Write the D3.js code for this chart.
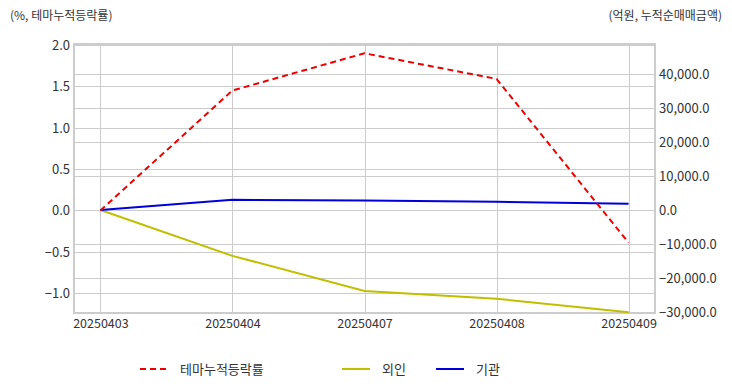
<!DOCTYPE html>
<html><head><meta charset="utf-8">
<script src="https://cdn.jsdelivr.net/npm/d3@7"></script>
<style>body{margin:0;background:#fff}svg{display:block;font-family:"Noto Sans CJK KR","Noto Sans",sans-serif}</style>
</head><body><svg id="c" width="732" height="392"></svg>
<script>
const dates = ["20250403","20250404","20250407","20250408","20250409"];
const themeRate = [0, 1.45, 1.90, 1.59, -0.39];
const foreign = [0, -13500, -23800, -26100, -30100];
const institution = [0, 3000, 2750, 2400, 1850];
const leftTicks = [2.0, 1.5, 1.0, 0.5, 0.0, -0.5, -1.0];
const rightTicks = [40000, 30000, 20000, 10000, 0, -10000, -20000, -30000];

const svg = d3.select("#c");
const L = 74, R = 655, T = 45, B = 313;
const x = d3.scalePoint().domain(dates).range([L, R]).padding(0.2);
const yL = d3.scaleLinear().domain([-1.24, 2.0]).range([B, T]);
const yR = d3.scaleLinear().domain([-30300, 48500]).range([B, T]);
const grid = "#cccccc", txt = "#333";

const g = svg.append("g");
// grid lines
g.selectAll(".gl").data(leftTicks).join("line").attr("x1", L).attr("x2", R)
  .attr("y1", d => Math.round(yL(d)) + 0.5).attr("y2", d => Math.round(yL(d)) + 0.5)
  .attr("stroke", grid).attr("stroke-width", 1);
g.selectAll(".gr").data(rightTicks).join("line").attr("x1", L).attr("x2", R)
  .attr("y1", d => Math.round(yR(d)) + 0.5).attr("y2", d => Math.round(yR(d)) + 0.5)
  .attr("stroke", grid).attr("stroke-width", 1);
g.selectAll(".gx").data(dates).join("line").attr("y1", T).attr("y2", B)
  .attr("x1", d => Math.round(x(d)) + 0.5).attr("x2", d => Math.round(x(d)) + 0.5)
  .attr("stroke", grid).attr("stroke-width", 1);
// frame
g.append("rect").attr("x", L).attr("y", T - 1).attr("width", R - L).attr("height", B - T + 1)
  .attr("fill", "none").attr("stroke", grid).attr("stroke-width", 2);

// axes
const axL = svg.append("g").attr("transform", `translate(${L - 4},0)`)
  .call(d3.axisLeft(yL).tickValues(leftTicks).tickFormat(d3.format(".1f")).tickSize(0).tickPadding(0));
const axR = svg.append("g").attr("transform", `translate(${R + 4},0)`)
  .call(d3.axisRight(yR).tickValues(rightTicks).tickFormat(d3.format(",.1f")).tickSize(0).tickPadding(0));
const axB = svg.append("g").attr("transform", `translate(0,${B + 3})`)
  .call(d3.axisBottom(x).tickSize(0).tickPadding(0));
[axL, axR, axB].forEach(a => {
  a.select(".domain").remove();
  a.selectAll("text").attr("fill", txt).style("font-size", "13px")
    .style("font-family", '"Noto Sans CJK KR","Noto Sans",sans-serif');
});
axB.selectAll("text").attr("dy", "0.95em").style("font-size", "12.5px");
axL.selectAll("text").attr("dy", "0.35em");
axR.selectAll("text").attr("dy", "0.35em");

// lines
const lineL = d3.line().x((d, i) => x(dates[i])).y(d => yL(d));
const lineR = d3.line().x((d, i) => x(dates[i])).y(d => yR(d));
svg.append("path").datum(foreign).attr("d", lineR).attr("fill", "none")
  .attr("stroke", "#bfbf00").attr("stroke-width", 2);
svg.append("path").datum(institution).attr("d", lineR).attr("fill", "none")
  .attr("stroke", "#0000dd").attr("stroke-width", 2);
svg.append("path").datum(themeRate).attr("d", lineL).attr("fill", "none")
  .attr("stroke", "#ee0000").attr("stroke-width", 2).attr("stroke-dasharray", "6,4");

// axis titles
svg.append("text").attr("x", 10).attr("y", 20).text("(%, 테마누적등락률)")
  .attr("fill", txt).style("font-size", "12px");
svg.append("text").attr("x", 722).attr("y", 20).attr("text-anchor", "end").text("(억원, 누적순매매금액)")
  .attr("fill", txt).style("font-size", "12px");

// legend
const legend = [
  {name: "테마누적등락률", color: "#ee0000", dash: "6,4", x: 140},
  {name: "외인", color: "#bfbf00", dash: null, x: 342},
  {name: "기관", color: "#0000dd", dash: null, x: 436}
];
const lg = svg.append("g").selectAll("g").data(legend).join("g")
  .attr("transform", d => `translate(${d.x},369)`);
lg.append("line").attr("x1", 0).attr("x2", 28).attr("y1", 0).attr("y2", 0)
  .attr("stroke", d => d.color).attr("stroke-width", 2)
  .attr("stroke-dasharray", d => d.dash);
lg.append("text").attr("x", 40).attr("dy", "0.35em").text(d => d.name)
  .attr("fill", txt).style("font-size", "13px");
</script></body></html>
